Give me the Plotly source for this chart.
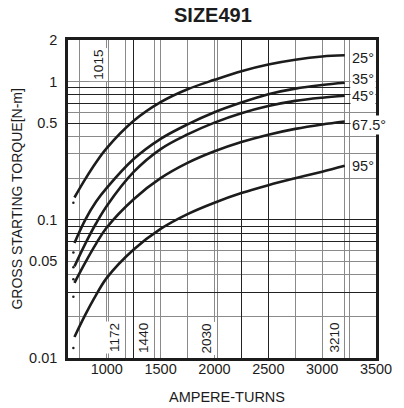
import plotly.graph_objects as go

# readings from the SIZE491 chart
ampere_turns = [700, 800, 900, 1000, 1250, 1500, 1750, 2000, 2250, 2500, 2750, 3000, 3210]
torque_25 = [0.145, 0.197, 0.26, 0.33, 0.52, 0.71, 0.88, 1.03, 1.19, 1.33, 1.44, 1.52, 1.55]
torque_35 = [0.068, 0.10, 0.135, 0.17, 0.275, 0.385, 0.49, 0.60, 0.705, 0.81, 0.89, 0.945, 0.98]
torque_45 = [0.046, 0.067, 0.094, 0.126, 0.222, 0.325, 0.415, 0.505, 0.59, 0.665, 0.725, 0.765, 0.79]
torque_67 = [0.035, 0.049, 0.067, 0.088, 0.141, 0.20, 0.258, 0.313, 0.365, 0.413, 0.455, 0.49, 0.515]
torque_95 = [0.0142, 0.0205, 0.0285, 0.038, 0.061, 0.086, 0.11, 0.133, 0.156, 0.178, 0.20, 0.223, 0.246]
curve_names = ["25°", "35°", "45°", "67.5°", "95°"]

dot_x = [690, 690, 690, 690, 690, 690]
dot_y = [0.133, 0.058, 0.0454, 0.0372, 0.0278, 0.0118]

ref_lines = [1015, 1172, 1440, 2030, 3210]
x_grid_gray = [750, 1000, 1500, 1750, 2000, 2500, 2750, 3000, 3250, 3500]
x_grid_black = [1250, 2250, 2500]
x_labels = {1000: "1000", 1500: "1500", 2000: "2000", 2500: "2500", 3000: "3000", 3500: "3500"}

y_grid = [0.02, 0.03, 0.04, 0.05, 0.06, 0.07, 0.08, 0.09, 0.1,
          0.2, 0.3, 0.4, 0.5, 0.6, 0.7, 0.8, 0.9, 1, 2]
y_grid_black = [0.03, 0.07, 0.08, 0.09, 0.1, 0.5, 0.7, 0.8, 0.9]
y_labels = {0.01: "0.01", 0.05: "0.05", 0.1: "0.1", 0.5: "0.5", 1: "1", 2: "2"}

FONT = "Arial, Liberation Sans, sans-serif"
INK = "#1c1c1c"

fig = go.Figure()

# placeholder on the base axes so they get drawn
fig.add_trace(go.Scatter(x=[1000], y=[0.1], mode="markers", marker=dict(opacity=0),
                         hoverinfo="skip", showlegend=False))

for vals in [torque_25, torque_35, torque_45, torque_67, torque_95]:
    fig.add_trace(go.Scatter(
        x=ampere_turns, y=vals, mode="lines",
        line=dict(color=INK, width=2.6, shape="spline", smoothing=1),
        xaxis="x2", yaxis="y2", showlegend=False
    ))

fig.add_trace(go.Scatter(x=dot_x, y=dot_y, mode="markers",
                         marker=dict(color=INK, size=2.5),
                         xaxis="x2", yaxis="y2", showlegend=False))

x_ticks = sorted(set(x_grid_gray + x_grid_black + ref_lines))
y_ticks = [0.01] + y_grid

fig.update_layout(
    width=404, height=408,
    margin=dict(l=68, r=19, t=40, b=50),
    paper_bgcolor="white", plot_bgcolor="white",
    font=dict(family=FONT, color=INK),
    showlegend=False,
    xaxis=dict(
        range=[640, 3500], tickmode="array", tickvals=x_ticks,
        ticktext=[x_labels.get(v, "") for v in x_ticks],
        showgrid=True, gridcolor="#8a8a8a", gridwidth=1,
        showline=True, linecolor=INK, linewidth=2.5, mirror=True,
        ticks="", ticklabelstandoff=-4, tickfont=dict(size=14.5), zeroline=False,
    ),
    yaxis=dict(
        type="log", range=[-2, 0.30103], tickmode="array", tickvals=y_ticks,
        ticktext=[y_labels.get(v, "") for v in y_ticks],
        showgrid=True, gridcolor="#8a8a8a", gridwidth=1,
        showline=True, linecolor=INK, linewidth=2.5, mirror=True,
        ticks="", ticklabelstandoff=5, tickfont=dict(size=14.5), zeroline=False,
    ),
    xaxis2=dict(
        overlaying="x", range=[640, 3500], tickmode="array", tickvals=x_grid_black,
        showticklabels=False, showgrid=True, gridcolor="#222", gridwidth=1,
        showline=False, zeroline=False, ticks="",
    ),
    yaxis2=dict(
        overlaying="y", type="log", range=[-2, 0.30103], tickmode="array",
        tickvals=y_grid_black, showticklabels=False, showgrid=True,
        gridcolor="#222", gridwidth=1, showline=False, zeroline=False, ticks="",
    ),
)

annotations = []
# title and axis titles
annotations.append(dict(text="<b>SIZE491</b>", xref="paper", yref="paper", x=0.47, y=1.078,
                        showarrow=False, font=dict(size=20, family=FONT), xanchor="center", yanchor="middle"))
annotations.append(dict(text="AMPERE-TURNS", xref="paper", yref="paper", x=0.516, y=-0.123,
                        showarrow=False, font=dict(size=14.5, family=FONT), yanchor="middle"))
annotations.append(dict(text="GROSS STARTING TORQUE[N-m]", xref="paper", yref="paper", x=-0.167, y=0.5,
                        textangle=-90, showarrow=False, font=dict(size=14, family=FONT),
                        xanchor="center", yanchor="middle"))

# labels of the reference ampere-turn lines
for v in ref_lines:
    top = v == 1015
    annotations.append(dict(
        text=str(v), x=v - 95, xref="x", yref="paper", y=0.923 if top else 0.063,
        textangle=-90, showarrow=False, bgcolor="white", borderpad=1,
        font=dict(size=13.5, family=FONT), xanchor="center", yanchor="middle"
    ))

# curve labels at the right end
label_y = [0.944, 0.876, 0.825, 0.734, 0.605]
for name, ly in zip(curve_names, label_y):
    annotations.append(dict(
        text=name, x=3262, xref="x", yref="paper", y=ly, showarrow=False,
        bgcolor="white", borderpad=1, font=dict(size=14.5, family=FONT),
        xanchor="left", yanchor="middle"
    ))

fig.update_layout(annotations=annotations)

# the page body has a default margin; drop it so the figure sits at the window corner
fig.write_html("out.html", config={"displayModeBar": False},
               post_script="document.body.style.margin='0px';")
